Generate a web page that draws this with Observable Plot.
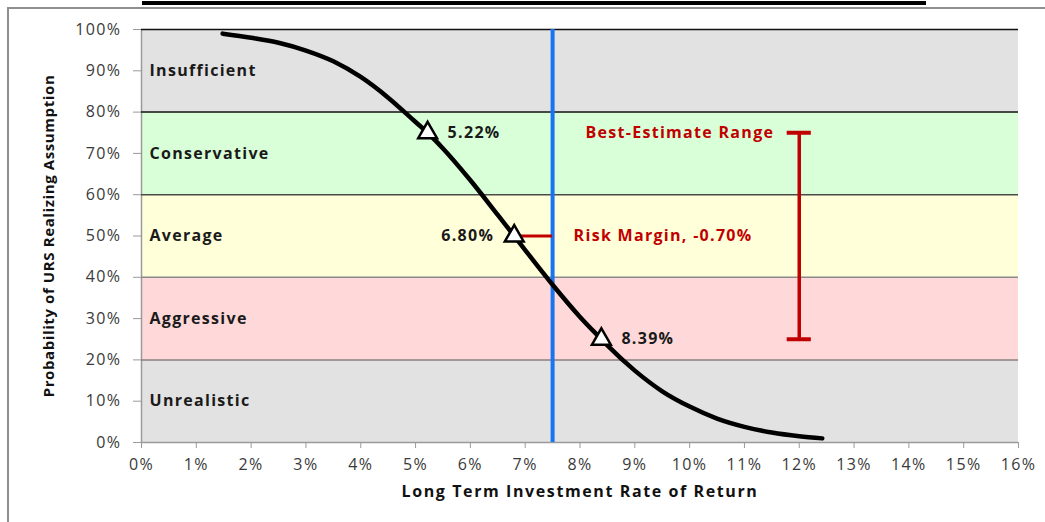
<!DOCTYPE html>
<html>
<head>
<meta charset="utf-8">
<script src="https://cdn.jsdelivr.net/npm/d3@7"></script>
<script src="https://cdn.jsdelivr.net/npm/@observablehq/plot@0.6"></script>
<style>
  html, body { margin: 0; padding: 0; background: #fff; }
  #wrap { position: relative; width: 1045px; height: 522px; overflow: hidden; }
  #frame { position: absolute; left: 7px; top: 7px; right: -10px; bottom: -10px;
           border-left: 2px solid #8f8f8f; border-top: 2px solid #8f8f8f; }
  #titlebar { position: absolute; left: 142px; top: 1px; width: 784px; height: 4px; background: #000; }
  #chart { position: absolute; left: 0; top: 0; }
  svg { font-family: "Open Sans", sans-serif; }
  g[aria-label="x-axis tick label"] text, g[aria-label="y-axis tick label"] text { letter-spacing: 1.4px; }
  g[aria-label="x-axis label"] text { font-weight: bold; fill: #111; font-size: 16px; letter-spacing: 1.6px; }
  g[aria-label="y-axis label"] text { font-weight: bold; fill: #111; font-size: 15px; letter-spacing: 0.6px; }
  g[aria-label="text"] text { letter-spacing: 1.3px; }
</style>
</head>
<body>
<div id="wrap">
  <div id="frame"></div>
  <div id="titlebar"></div>
  <div id="chart"></div>
</div>
<script>
// Bands
const bandLow    = [0, 20, 40, 60, 80];
const bandHigh   = [20, 40, 60, 80, 100];
const bandNames  = ["Unrealistic", "Aggressive", "Average", "Conservative", "Insufficient"];
const bandColors = ["#e2e2e2", "#ffd9d9", "#ffffd9", "#d9ffd9", "#e2e2e2"];
const bandLabelY = [10, 30, 50, 70, 90];

// Boundary lines between bands
const boundaryY      = [20, 40, 60, 80, 100];
const boundaryColors = ["#8c7b7b", "#8a8a8a", "#4a4a4a", "#111111", "#111111"];

// Probability curve (rate of return %, probability %)
const curveX = [1.48, 2.0, 2.5, 3.0, 3.5, 4.0, 4.5, 5.0, 5.22, 5.5, 6.0, 6.5, 6.8, 7.0, 7.5, 8.0, 8.39, 8.5, 9.0, 9.5, 10.0, 10.5, 11.0, 11.5, 12.0, 12.42];
const curveY = [99.0, 98.0, 96.8, 94.9, 92.3, 88.5, 83.5, 77.6, 75.0, 71.2, 63.5, 55.1, 50.0, 46.6, 38.2, 30.4, 25.0, 23.5, 17.4, 12.4, 8.7, 5.8, 3.8, 2.4, 1.5, 1.0];

// Marked points
const markX      = [5.22, 6.80, 8.39];
const markY      = [75, 50, 25];
const markLabels = ["5.22%", "6.80%", "8.39%"];

// Assumption line and annotations
const assumedRate   = 7.5;
const riskMarginLbl = "Risk Margin, -0.70%";
const rangeLabel    = "Best-Estimate Range";
const rangeX        = 12;
const rangeLow      = 25;
const rangeHigh     = 75;
const capHalf       = 0.22;

// Ticks
const xTicks = d3.range(0, 17, 1);
const yTicks = d3.range(0, 101, 10);

const bands = bandLow.map((lo, i) => ({lo, hi: bandHigh[i], name: bandNames[i], color: bandColors[i], ly: bandLabelY[i]}));
const bounds = boundaryY.map((y, i) => ({y, color: boundaryColors[i]}));
const curve = curveX.map((x, i) => ({x, y: curveY[i]}));
const marks = markX.map((x, i) => ({x, y: markY[i], label: markLabels[i]}));
const red = "#c00000";

const chart = Plot.plot({
  width: 1045,
  height: 522,
  marginLeft: 141,
  marginRight: 27,
  marginTop: 29,
  marginBottom: 80,
  style: {fontFamily: "Open Sans, sans-serif", background: "transparent"},
  x: {domain: [0, 16]},
  y: {domain: [0, 100]},
  marks: [
    Plot.rectY(bands, {y1: "lo", y2: "hi", fill: "color"}),
    Plot.ruleX([0], {stroke: "#9a9a9a", strokeWidth: 1.5}),
    Plot.ruleY([0], {stroke: "#9a9a9a", strokeWidth: 1.5}),
    Plot.ruleY(bounds, {y: "y", stroke: "color", strokeWidth: 1.5}),
    Plot.axisY({ticks: yTicks, tickFormat: d => d + "%", tickSize: 8, tickPadding: 12, fontSize: 16, fill: "#3a3a3a", stroke: "#9a9a9a",
      label: "Probability of URS Realizing Assumption", labelArrow: false, labelAnchor: "center", labelOffset: 98}),
    Plot.axisX({ticks: xTicks, tickFormat: d => d + "%", tickSize: 6, tickPadding: 10, fontSize: 16, fill: "#3a3a3a", stroke: "#9a9a9a",
      label: "Long Term Investment Rate of Return", labelArrow: false, labelAnchor: "center", labelOffset: 54}),
    Plot.text(bands, {x: 0, y: "ly", text: "name", textAnchor: "start", dx: 8, fontSize: 16, fontWeight: "bold", fill: "#1a1a1a"}),
    Plot.ruleX([assumedRate], {y1: 0, y2: 100, stroke: "#1874f0", strokeWidth: 4}),
    Plot.ruleY([50], {x1: markX[1], x2: assumedRate, stroke: red, strokeWidth: 3}),
    Plot.line(curve, {x: "x", y: "y", curve: "monotone-x", stroke: "#000", strokeWidth: 4.5}),
    Plot.dot(marks, {x: "x", y: "y", symbol: "triangle", r: 7, fill: "#fff", stroke: "#000", strokeWidth: 2.5}),
    Plot.text([marks[0]], {x: "x", y: "y", text: "label", textAnchor: "start", dx: 20, fontSize: 16, fontWeight: "bold", fill: "#1a1a1a"}),
    Plot.text([marks[1]], {x: "x", y: "y", text: "label", textAnchor: "end", dx: -20, fontSize: 16, fontWeight: "bold", fill: "#1a1a1a"}),
    Plot.text([marks[2]], {x: "x", y: "y", text: "label", textAnchor: "start", dx: 20, fontSize: 16, fontWeight: "bold", fill: "#1a1a1a"}),
    Plot.text([riskMarginLbl], {x: assumedRate, y: 50, text: d => d, textAnchor: "start", dx: 21, fontSize: 16, fontWeight: "bold", fill: red}),
    Plot.text([rangeLabel], {x: rangeX, y: rangeHigh, text: d => d, textAnchor: "end", dx: -25, fontSize: 16, fontWeight: "bold", fill: red}),
    Plot.ruleX([rangeX], {y1: rangeLow, y2: rangeHigh, stroke: red, strokeWidth: 3.5}),
    Plot.ruleY([rangeLow, rangeHigh], {x1: rangeX - capHalf, x2: rangeX + capHalf, stroke: red, strokeWidth: 4})
  ]
});
document.getElementById("chart").appendChild(chart);
</script>
</body>
</html>
